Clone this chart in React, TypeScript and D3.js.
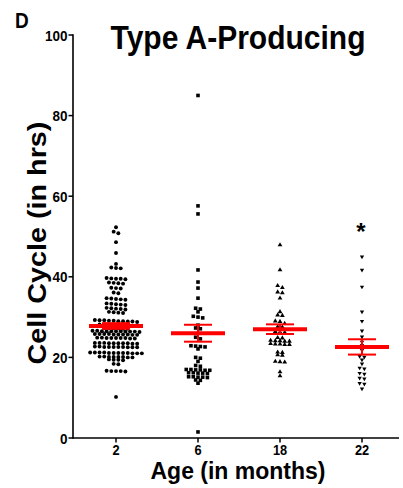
import React from 'react';
import * as d3 from 'd3';

const categories = ['2', '6', '18', '22'];

const age2 = [
  52.3, 51.2, 50.8, 48.6, 45.9, 43.2, 42.3, 42.2, 42.1,
  39.7, 39.6, 39.5, 39.5, 39.4,
  38.6, 38.5, 38.4, 38.3,
  37.3, 37.2, 37.1,
  36.1, 35.9,
  34.7, 34.6, 34.5, 34.4, 34.3,
  33.4, 33.3, 33.2, 33.1, 33.0,
  32.3, 32.2, 32.1, 32.0, 31.9,
  31.3, 31.2, 31.1, 31.0,
  29.3, 29.2, 29.2, 29.1, 29.1, 29.0, 29.0, 28.9, 28.9, 28.8,
  28.2, 28.2, 28.1, 28.0, 28.0, 27.9, 27.9, 27.8,
  27.3, 27.3, 27.2, 27.2, 27.1, 27.1,
  26.6, 26.6, 26.5, 26.5, 26.5, 26.4, 26.4, 26.4, 26.3, 26.5, 26.5,
  25.8, 25.8, 25.7, 25.8, 25.7, 25.7, 25.6, 25.8, 25.7, 25.6,
  24.9, 24.8, 24.8, 24.7, 24.8, 24.9, 24.7, 24.8, 24.8,
  23.6, 23.6, 23.5, 23.5, 23.5, 23.4, 23.6, 23.5, 23.4, 23.5,
  22.6, 22.7, 22.6, 22.5, 22.6, 22.7, 22.5, 22.6, 22.6, 22.5,
  21.2, 21.2, 21.1, 21.1, 21.0, 21.1, 21.2, 21.0, 21.1, 21.1, 21.0, 21.2,
  20.1, 20.2, 20.1, 20.0, 20.1, 20.2, 20.0, 20.1,
  19.4, 19.3, 19.4, 19.5,
  18.4, 18.3,
  16.6, 16.6, 16.5, 16.7, 16.6,
  10.2,
];

const age6 = [
  85.0, 57.6, 55.6, 41.7, 38.7, 37.2, 34.7,
  32.2, 32.0, 31.3, 30.2, 30.0, 29.8, 28.0, 27.3, 27.1,
  25.0, 24.6, 22.9, 22.8, 22.6, 22.7, 22.1,
  20.0, 19.8, 19.0, 18.0, 17.8,
  17.0, 16.9, 16.8, 16.9, 17.0, 16.8,
  16.2, 16.1, 16.0, 16.2, 16.1,
  15.2, 15.1, 15.0, 15.1, 15.2,
  14.4, 14.3, 13.6, 1.5,
];

const age18 = [
  47.9, 41.7, 37.8, 37.3, 36.2, 36.0, 34.7,
  31.3, 30.5, 30.4, 29.0, 28.9, 28.4, 27.6, 27.5,
  26.3, 26.2, 26.4, 24.8, 24.9,
  24.1, 24.0, 24.2, 24.1, 24.0,
  23.3, 23.2, 23.4, 23.3, 23.2,
  21.3, 21.2, 20.6, 20.5, 18.9, 18.8, 19.0, 16.4, 15.4,
];

const age22 = [
  45.0, 41.7, 37.5, 31.3, 29.0, 26.6, 25.1, 23.8, 23.0, 21.8,
  20.3, 20.1, 19.4, 18.4, 17.4, 17.2, 16.1, 15.9, 14.9, 14.7,
  13.6, 13.4, 12.2,
];

const seriesValues = [age2, age6, age18, age22];
const means = [27.8, 26.0, 27.0, 22.6];
const sems = [0.7, 2.1, 1.2, 1.9];
const significance = ['', '', '', '*'];
const yTicks = [0, 20, 40, 60, 80, 100];

const panelLabel = 'D';
const title = 'Type A-Producing';
const xTitle = 'Age (in months)';
const yTitle = 'Cell Cycle (in hrs)';

const W = 403;
const H = 488;
const FONT = '"Liberation Sans", Arial, Helvetica, sans-serif';
const S = 1.15;

const markerTypes = [
  { type: d3.symbolCircle, size: 12, rot: 0 },
  { type: d3.symbolSquare, size: 13, rot: 0 },
  { type: d3.symbolTriangle, size: 10, rot: 0 },
  { type: d3.symbolTriangle, size: 8, rot: 180 },
];

function swarm(values: number[], y: (v: number) => number, pitch: number, tol: number) {
  const sorted = values.map((v) => ({ v, py: y(v) })).sort((a, b) => a.py - b.py);
  const rows: { start: number; pts: { v: number; py: number }[] }[] = [];
  let cur: { start: number; pts: { v: number; py: number }[] } | null = null;
  for (const p of sorted) {
    if (!cur || p.py - cur.start > tol) {
      cur = { start: p.py, pts: [] };
      rows.push(cur);
    }
    cur.pts.push(p);
  }
  const out: { dx: number; py: number }[] = [];
  rows.forEach((r) => {
    const n = r.pts.length;
    r.pts.forEach((p, i) => out.push({ dx: (i - (n - 1) / 2) * pitch, py: p.py }));
  });
  return out;
}

export default function App() {
  const x = d3.scalePoint<string>().domain(categories).range([75, 403]).padding(0.5);
  const y = d3.scaleLinear().domain([0, 100]).range([438, 35]);
  const axisX0 = 73;
  const axisY0 = y(0);

  return (
    <svg
      width={W}
      height={H}
      style={{ position: 'absolute', left: 0, top: 0, background: '#fff' }}
      fontFamily={FONT}
    >
      <rect x={0} y={0} width={W} height={H} fill="#fff" />
      {/* panel label */}
      <text transform={`translate(15,28) scale(1,${S})`} fontSize={19} fontWeight="bold">
        {panelLabel}
      </text>
      {/* title */}
      <text
        transform={`translate(238,49) scale(1,${S * 0.97})`}
        fontSize={30}
        fontWeight="bold"
        textAnchor="middle"
      >
        {title}
      </text>

      {/* y axis */}
      <line x1={axisX0} x2={axisX0} y1={y(100) - 0.75} y2={axisY0 + 0.75} stroke="#000" strokeWidth={1.6} />
      {yTicks.map((t) => (
        <g key={t}>
          <line x1={axisX0 - 4.5} x2={axisX0} y1={y(t)} y2={y(t)} stroke="#000" strokeWidth={1.5} />
          <text
            transform={`translate(${axisX0 - 5.5},${y(t)}) scale(1,${S})`}
            fontSize={13.5}
            fontWeight="bold"
            textAnchor="end"
            dy="0.36em"
          >
            {t}
          </text>
        </g>
      ))}
      <text
        transform={`translate(46,243) scale(1,${S}) rotate(-90)`}
        fontSize={25}
        fontWeight="bold"
        textAnchor="middle"
      >
        {yTitle}
      </text>

      {/* x axis */}
      <line x1={axisX0} x2={W - 4} y1={axisY0} y2={axisY0} stroke="#000" strokeWidth={1.6} />
      {categories.map((c) => (
        <g key={c}>
          <line x1={x(c)!} x2={x(c)!} y1={axisY0} y2={axisY0 + 4.5} stroke="#000" strokeWidth={1.5} />
          <text
            transform={`translate(${x(c)!},454.5) scale(1,${S})`}
            fontSize={12.8}
            fontWeight="bold"
            textAnchor="middle"
          >
            {c}
          </text>
        </g>
      ))}
      <text
        transform={`translate(238,479)`}
        fontSize={23}
        fontWeight="bold"
        textAnchor="middle"
      >
        {xTitle}
      </text>

      {/* points */}
      {seriesValues.map((vals, si) => {
        const cx = x(categories[si])!;
        const m = markerTypes[si];
        const path = d3.symbol().type(m.type).size(m.size)()!;
        const pts = swarm(vals, y, 4.7, 2.5);
        return (
          <g key={si}>
            {pts.map((p, i) => (
              <path
                key={i}
                d={path}
                transform={`translate(${cx + p.dx},${p.py}) rotate(${m.rot})`}
                fill="#000"
              />
            ))}
          </g>
        );
      })}

      {/* mean and SEM */}
      {means.map((mv, si) => {
        const cx = x(categories[si])!;
        const top = y(mv + sems[si]);
        const bot = y(mv - sems[si]);
        return (
          <g key={si} stroke="#ff0000" fill="none">
            <line x1={cx} x2={cx} y1={top} y2={bot} strokeWidth={2} />
            <line x1={cx - 14} x2={cx + 14} y1={top} y2={top} strokeWidth={2} />
            <line x1={cx - 14} x2={cx + 14} y1={bot} y2={bot} strokeWidth={2} />
            <line x1={cx - 27} x2={cx + 27} y1={y(mv)} y2={y(mv)} strokeWidth={4} />
          </g>
        );
      })}

      {/* significance */}
      {significance.map((s, si) =>
        s ? (
          <text
            key={si}
            x={x(categories[si])! - 1}
            y={240}
            fontSize={24}
            fontWeight="bold"
            textAnchor="middle"
          >
            {s}
          </text>
        ) : null
      )}
    </svg>
  );
}
